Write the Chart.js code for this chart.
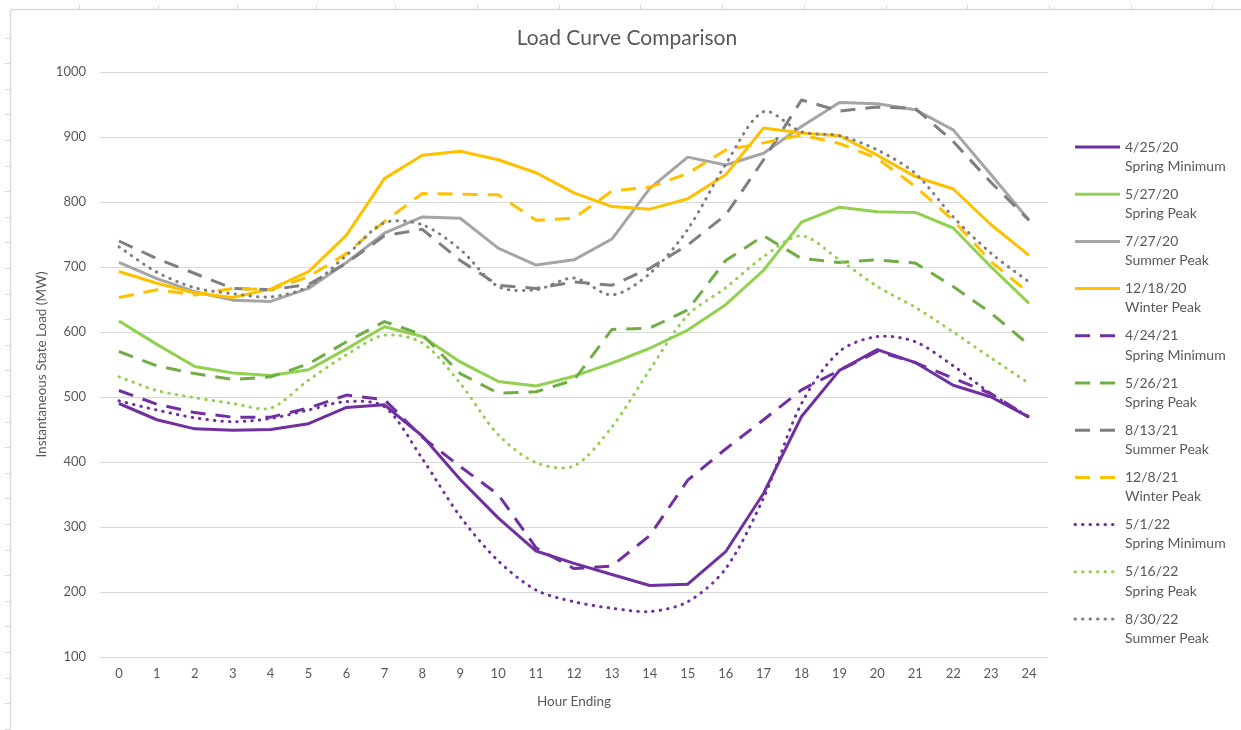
<!DOCTYPE html>
<html>
<head>
<meta charset="utf-8">
<title>Load Curve Comparison</title>
<script src="https://cdn.jsdelivr.net/npm/chart.js@4.4.1/dist/chart.umd.min.js"></script>
<style>
  html, body { margin: 0; padding: 0; background: #ffffff; }
  canvas { display: block; }
</style>
</head>
<body>
<canvas id="loadChart" width="1241" height="730"></canvas>
<script>
// Hour-ending categories
const hours = ['0','1','2','3','4','5','6','7','8','9','10','11','12','13','14','15','16','17','18','19','20','21','22','23','24'];

// Instantaneous state load (MW) per hour
const springMin2020  = [490, 465, 451, 449, 450, 459, 484, 488, 440, 373, 314, 263, 244, 227, 210, 212, 262, 352, 470, 541, 573, 553, 518, 500, 469];
const springPeak2020 = [617, 581, 547, 537, 533, 542, 574, 608, 593, 554, 524, 517, 532, 552, 575, 603, 642, 695, 769, 792, 785, 784, 760, 700, 644];
const summerPeak2020 = [707, 682, 662, 649, 647, 667, 707, 752, 777, 775, 729, 703, 711, 743, 821, 869, 857, 875, 916, 953, 951, 942, 911, 842, 772];
const winterPeak2020 = [693, 675, 660, 653, 666, 693, 749, 836, 872, 878, 865, 845, 814, 793, 789, 805, 842, 914, 906, 902, 872, 839, 820, 765, 718];
const springMin2021  = [510, 489, 476, 469, 469, 483, 503, 496, 438, 393, 350, 268, 236, 240, 287, 372, 420, 465, 511, 541, 570, 553, 529, 505, 469];
const springPeak2021 = [570, 548, 536, 527, 531, 551, 585, 616, 596, 536, 506, 508, 526, 604, 606, 634, 710, 748, 713, 707, 711, 706, 670, 629, 580];
const summerPeak2021 = [740, 713, 690, 667, 665, 673, 706, 748, 758, 710, 672, 667, 677, 672, 698, 734, 780, 865, 957, 940, 946, 944, 893, 830, 772];
const winterPeak2021 = [653, 665, 657, 667, 665, 685, 721, 770, 813, 812, 811, 772, 775, 817, 823, 844, 880, 891, 903, 890, 867, 824, 772, 708, 660];
const springMin2022  = [494, 480, 468, 462, 467, 480, 493, 485, 405, 316, 248, 203, 185, 175, 170, 185, 236, 345, 490, 570, 593, 585, 548, 505, 469];
const springPeak2022 = [531, 510, 499, 490, 483, 526, 565, 595, 583, 521, 442, 399, 394, 454, 542, 626, 668, 716, 748, 711, 670, 638, 600, 560, 521];
const summerPeak2022 = [731, 692, 668, 659, 654, 670, 718, 768, 765, 727, 670, 665, 683, 657, 690, 758, 858, 939, 908, 902, 880, 844, 777, 721, 677];

// Legend text: date line and season line
const seriesDates   = ['4/25/20', '5/27/20', '7/27/20', '12/18/20', '4/24/21', '5/26/21', '8/13/21', '12/8/21', '5/1/22', '5/16/22', '8/30/22'];
const seriesSeasons = ['Spring Minimum', 'Spring Peak', 'Summer Peak', 'Winter Peak', 'Spring Minimum', 'Spring Peak', 'Summer Peak', 'Winter Peak', 'Spring Minimum', 'Spring Peak', 'Summer Peak'];
const seriesValues  = [springMin2020, springPeak2020, summerPeak2020, winterPeak2020,
                       springMin2021, springPeak2021, summerPeak2021, winterPeak2021,
                       springMin2022, springPeak2022, summerPeak2022];

// Axis range and tick step
const yMin = 100, yMax = 1000, yStep = 100;

// Styling
const PURPLE = '#7030A0', GREEN = '#92D050', GREEN_DARK = '#70AD47';
const GRAY_LIGHT = '#A5A5A5', GRAY = '#7F7F7F', GOLD = '#FFC000';
const seriesColors = [PURPLE, GREEN, GRAY_LIGHT, GOLD, PURPLE, GREEN_DARK, GRAY, GOLD, PURPLE, GREEN, GRAY];
const seriesStyles = ['solid','solid','solid','solid','dash','dash','dash','dash','dot','dot','dot'];
const DASH = [15, 10];
const DOT = [0.5, 7];
const TEXT = '#595959';
const FONT = 'Lato, "Open Sans", "DejaVu Sans", sans-serif';

function dashFor(style) { return style === 'dash' ? DASH : style === 'dot' ? DOT : []; }

const datasets = seriesValues.map((vals, i) => ({
  label: seriesDates[i] + ' ' + seriesSeasons[i],
  data: vals,
  borderColor: seriesColors[i],
  backgroundColor: seriesColors[i],
  borderWidth: 3,
  borderDash: dashFor(seriesStyles[i]),
  borderCapStyle: seriesStyles[i] === 'dot' ? 'round' : 'butt',
  borderJoinStyle: 'round',
  pointRadius: 0,
  pointHoverRadius: 0,
  tension: seriesStyles[i] === 'dot' ? 0.3 : 0,
  fill: false,
  order: -i
}));

// Worksheet frame behind the chart (cell borders peeking at the edges)
const sheetFrame = {
  id: 'sheetFrame',
  beforeDraw(chart) {
    const ctx = chart.ctx;
    ctx.save();
    ctx.fillStyle = '#ffffff';
    ctx.fillRect(0, 0, chart.width, chart.height);
    ctx.strokeStyle = '#D9D9D9';
    ctx.lineWidth = 1.5;
    ctx.beginPath();
    ctx.moveTo(10.5, 9.5); ctx.lineTo(10.5, chart.height);
    ctx.moveTo(10.5, 9.5); ctx.lineTo(chart.width, 9.5);
    ctx.stroke();
    ctx.lineWidth = 1;
    ctx.beginPath();
    for (let y = 37.5; y < chart.height; y += 25.6) {
      ctx.moveTo(5, Math.round(y) + 0.5); ctx.lineTo(10, Math.round(y) + 0.5);
    }
    const cols = [79, 158, 237, 316, 395];
    for (let x = 477; x < chart.width; x += 81.7) cols.push(x);
    cols.forEach(x => { ctx.moveTo(Math.round(x) + 0.5, 5); ctx.lineTo(Math.round(x) + 0.5, 9); });
    ctx.stroke();
    ctx.restore();
  }
};

// Chart title and two-line legend on the right
const titleAndLegend = {
  id: 'titleAndLegend',
  afterDraw(chart) {
    const ctx = chart.ctx;
    ctx.save();
    ctx.fillStyle = TEXT;
    ctx.textBaseline = 'middle';
    ctx.textAlign = 'center';
    ctx.font = '21px ' + FONT;
    ctx.fillText('Load Curve Comparison', 627, 38);

    ctx.textAlign = 'left';
    ctx.font = '14px ' + FONT;
    chart.data.datasets.forEach((ds, i) => {
      const y = 147 + 47.2 * i;
      ctx.save();
      ctx.strokeStyle = ds.borderColor;
      ctx.lineWidth = ds.borderWidth;
      ctx.setLineDash(ds.borderDash);
      ctx.lineCap = ds.borderCapStyle;
      ctx.beginPath();
      ctx.moveTo(1075, y);
      ctx.lineTo(1120, y);
      ctx.stroke();
      ctx.restore();
      ctx.fillText(seriesDates[i], 1125, y);
      ctx.fillText(seriesSeasons[i], 1125, y + 19.3);
    });
    ctx.restore();
  }
};

new Chart(document.getElementById('loadChart'), {
  type: 'line',
  data: { labels: hours, datasets },
  plugins: [sheetFrame, titleAndLegend],
  options: {
    responsive: false,
    animation: false,
    devicePixelRatio: 1,
    events: [],
    layout: { padding: { top: 72, right: 193, bottom: 16, left: 30 } },
    plugins: {
      legend: { display: false },
      title: { display: false },
      tooltip: { enabled: false }
    },
    scales: {
      x: {
        type: 'category',
        offset: true,
        grid: { display: false, drawTicks: false },
        border: { display: false },
        ticks: { color: TEXT, font: { family: FONT, size: 13 }, padding: 9, autoSkip: false, maxRotation: 0 },
        title: { display: true, text: 'Hour Ending', color: TEXT, font: { family: FONT, size: 13.5 }, padding: 4 },
        afterFit(scale) { scale.height = 57; }
      },
      y: {
        min: yMin,
        max: yMax,
        grid: { color: '#D9D9D9', lineWidth: 1, drawTicks: false },
        border: { display: false },
        ticks: { stepSize: yStep, color: TEXT, font: { family: FONT, size: 13 }, padding: 14,
                 callback: (value) => String(value) },
        title: { display: true, text: 'Instantaneous State Load (MW)', color: TEXT, font: { family: FONT, size: 13.5 }, padding: 4 },
        afterFit(scale) { scale.width = 70; }
      }
    }
  }
});
</script>
</body>
</html>
